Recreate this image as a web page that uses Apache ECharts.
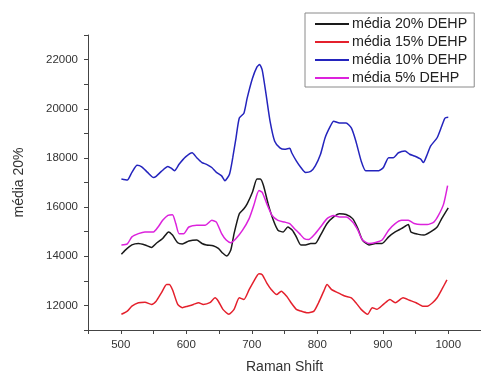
<!DOCTYPE html>
<html>
<head>
<meta charset="utf-8">
<script src="https://cdn.jsdelivr.net/npm/echarts@6/dist/echarts.min.js"></script>
<style>
html,body{margin:0;padding:0;background:#fff;}
#c{width:481px;height:379px;}
</style>
</head>
<body>
<div id="c"></div>
<script>
var seriesNames = ['média 20% DEHP', 'média 15% DEHP', 'média 10% DEHP', 'média 5% DEHP'];
var xTickLabels = [500, 600, 700, 800, 900, 1000];
var yTickLabels = [12000, 14000, 16000, 18000, 20000, 22000];

var x20 = [501,507,517,527,537,547,554,564,573,579,587,594,604,616,624,631,641,649,656,662,668,673,681,688,693,701,708,713,718,725,733,740,748,755,762,768,775,782,790,797,805,815,825,834,844,854,862,869,879,889,899,909,919,929,939,943,953,963,973,983,990,1000];
var y20 = [14080,14250,14460,14520,14460,14360,14520,14720,14990,14860,14550,14500,14620,14660,14520,14460,14430,14320,14120,14010,14250,14920,15730,15930,16130,16600,17140,17140,16870,16130,15460,15060,14990,15190,15060,14790,14460,14460,14520,14520,14860,15330,15600,15730,15700,15530,15130,14660,14460,14520,14520,14790,14990,15130,15290,14990,14900,14860,14990,15190,15530,15970];

var x15 = [501,510,517,527,537,547,554,562,570,574,579,587,594,602,611,619,626,636,644,649,656,665,673,681,688,696,703,711,716,723,730,738,745,753,760,768,775,785,795,802,810,815,822,832,842,852,859,867,877,884,891,901,911,919,931,941,951,961,968,976,983,990,998];
var y15 = [11640,11770,11970,12110,12130,12040,12170,12510,12850,12850,12640,12040,11910,11970,12040,12110,12040,12110,12310,12170,11840,11640,11840,12310,12240,12640,12980,13290,13250,12910,12640,12440,12580,12380,12110,11840,11770,11700,11770,12110,12580,12850,12640,12510,12380,12310,12110,11840,11640,11910,11840,12040,12240,12110,12310,12210,12110,11970,11970,12110,12310,12640,13040];

var x10 = [501,510,517,525,532,541,550,554,562,572,577,582,589,599,609,616,624,631,639,646,654,659,666,671,676,681,688,693,701,708,712,716,722,728,735,743,750,758,761,768,775,782,790,797,805,812,820,825,834,844,852,859,867,874,884,894,901,909,916,924,934,941,948,958,962,968,973,983,990,995,1000];
var y10 = [17140,17100,17410,17700,17640,17410,17200,17250,17450,17650,17580,17480,17740,18040,18210,18010,17810,17740,17610,17410,17270,17070,17340,18010,18820,19620,19820,20430,21230,21700,21800,21570,20560,19490,18680,18410,18350,18390,18210,17880,17610,17410,17450,17680,18150,18820,19290,19490,19420,19420,19220,18680,17880,17480,17480,17480,17610,18010,18010,18210,18280,18150,18080,17950,17810,18150,18480,18820,19290,19620,19650];

var x5 = [501,510,517,527,537,550,557,564,572,579,584,589,596,604,616,629,639,646,654,661,668,676,686,696,703,711,716,723,731,740,750,758,765,773,780,787,795,805,815,825,834,844,854,862,869,879,889,899,909,919,929,939,948,958,968,978,985,993,999];
var y5 = [14460,14500,14790,14920,14990,14990,15190,15460,15660,15690,15330,14920,14920,15190,15260,15260,15460,15390,14920,14660,14550,14720,15060,15530,16060,16670,16600,16130,15660,15460,15390,15330,15130,14920,14720,14680,14860,15190,15530,15660,15600,15600,15390,15060,14660,14520,14560,14660,15060,15330,15460,15460,15330,15290,15290,15390,15660,16130,16870];

function pairs(xs, ys) { return xs.map(function (x, i) { return [x, ys[i]]; }); }

var colors = ['#1a1a1a', '#e4202c', '#2424bd', '#dc22dc'];
var datasets = [pairs(x20, y20), pairs(x15, y15), pairs(x10, y10), pairs(x5, y5)];

var font = 'Liberation Sans, Arial, sans-serif';
var chart = echarts.init(document.getElementById('c'), null, {renderer: 'canvas'});
chart.setOption({
  animation: false,
  backgroundColor: '#fff',
  color: colors,
  grid: {left: 88, right: -10, top: 35, bottom: 44, containLabel: false},
  legend: {
    data: seriesNames,
    orient: 'vertical',
    left: 305, top: 13,
    padding: [4, 7, 2, 10],
    itemGap: 4,
    itemWidth: 34, itemHeight: 2,
    icon: 'rect',
    backgroundColor: '#fff',
    borderColor: '#8a8a8a', borderWidth: 1,
    textStyle: {fontFamily: font, fontSize: 14.3, color: '#222', padding: [0, 0, 0, -2], lineHeight: 14}
  },
  xAxis: {
    type: 'value', min: 450, max: 1050, interval: 50,
    name: 'Raman Shift', nameLocation: 'middle', nameGap: 30,
    nameTextStyle: {fontFamily: font, fontSize: 14, color: '#333'},
    axisLine: {lineStyle: {color: '#444', width: 1}},
    axisTick: {show: true, length: 4, lineStyle: {color: '#444'}},
    axisLabel: {customValues: xTickLabels, formatter: function (v) { return String(v); }, fontFamily: font, fontSize: 11.5, color: '#333', margin: 9},
    splitLine: {show: false}
  },
  yAxis: {
    type: 'value', min: 11000, max: 23000, interval: 1000,
    name: 'média 20%', nameLocation: 'middle', nameGap: 62, nameRotate: 90,
    nameTextStyle: {fontFamily: font, fontSize: 14, color: '#333'},
    axisLine: {show: true, lineStyle: {color: '#444', width: 1}},
    axisTick: {show: true, length: 4, lineStyle: {color: '#444'}},
    axisLabel: {customValues: yTickLabels, formatter: function (v) { return String(v); }, fontFamily: font, fontSize: 11.5, color: '#333', margin: 10},
    splitLine: {show: false}
  },
  series: seriesNames.map(function (n, i) {
    return {
      name: n, type: 'line', data: datasets[i],
      showSymbol: false, symbol: 'none', smooth: 0.2,
      lineStyle: {width: 1.5, color: colors[i]},
      itemStyle: {color: colors[i]}
    };
  })
});
</script>
</body>
</html>
